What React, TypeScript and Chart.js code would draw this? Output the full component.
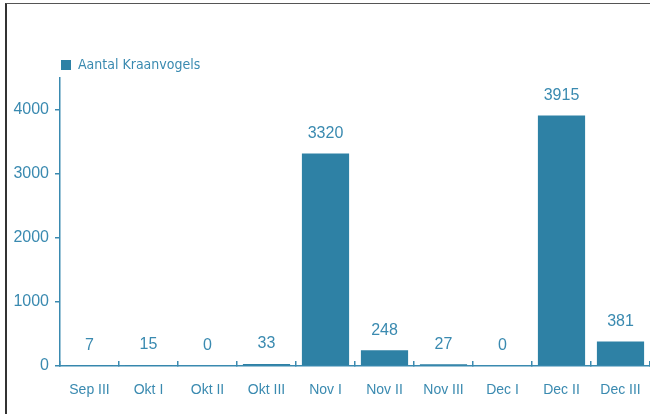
import React, { useEffect, useRef } from "react";
import { Chart, registerables } from "chart.js";

Chart.register(...registerables);

const categories = ["Sep III", "Okt I", "Okt II", "Okt III", "Nov I", "Nov II", "Nov III", "Dec I", "Dec II", "Dec III"];
const kraanvogels = [7, 15, 0, 33, 3320, 248, 27, 0, 3915, 381];
const seriesLabel = "Aantal Kraanvogels";
const yTickValues = [0, 1000, 2000, 3000, 4000];

const BAR = "#2e81a5";
const TEXT = "#3a8ab0";
const AXIS = "#3a8ab0";

const valueLabels = {
  id: "valueLabels",
  afterDatasetsDraw(chart: any) {
    const ctx = chart.ctx;
    const meta = chart.getDatasetMeta(0);
    const data = chart.data.datasets[0].data as number[];
    ctx.save();
    ctx.font = "16px 'Liberation Sans', Arial, sans-serif";
    ctx.fillStyle = TEXT;
    ctx.textAlign = "center";
    ctx.textBaseline = "middle";
    meta.data.forEach((el: any, i: number) => {
      ctx.fillText(String(data[i]), el.x, el.y - 20);
    });
    ctx.restore();
  },
};

const legendFit = {
  id: "legendFit",
  beforeLayout(chart: any) {
    const l = chart.legend;
    if (l && !l.__patched) {
      const orig = l.fit;
      l.fit = function () {
        orig.call(this);
        this.height -= 4;
      };
      l.__patched = true;
    }
  },
  afterLayout(chart: any) {
    const l = chart.legend;
    if (l) l.left = 51;
  },
};

export default function App() {
  const ref = useRef<HTMLCanvasElement | null>(null);
  useEffect(() => {
    if (!ref.current) return;
    const chart = new Chart(ref.current, {
      type: "bar",
      data: {
        labels: categories,
        datasets: [
          {
            label: seriesLabel,
            data: kraanvogels,
            backgroundColor: BAR,
            borderWidth: 0,
            categoryPercentage: 1,
            barPercentage: 0.8,
          },
        ],
      },
      options: {
        animation: false,
        responsive: false,
        layout: { padding: { left: 0, top: 48, right: 0, bottom: 0 } },
        plugins: {
          legend: {
            position: "top",
            align: "start",
            labels: {
              boxWidth: 10,
              boxHeight: 10,
              padding: 10,
              color: TEXT,
              font: { family: "'Liberation Sans Narrow', 'DejaVu Sans Condensed', 'Liberation Sans', sans-serif", size: 14 },
            },
          },
          tooltip: { enabled: false },
        },
        scales: {
          x: {
            grid: { drawOnChartArea: false, drawTicks: true, tickLength: -5, color: AXIS, lineWidth: 1.5 },
            border: { color: AXIS, width: 1.5 },
            ticks: { color: TEXT, padding: 21, font: { family: "'Liberation Sans', Arial, sans-serif", size: 14 } },
            afterFit(scale: any) {
              scale.height = 48;
              scale.paddingLeft = 0;
              scale.paddingRight = 0;
            },
          },
          y: {
            min: 0,
            max: 4500,
            grid: { drawOnChartArea: false, drawTicks: true, tickLength: 5, color: AXIS, lineWidth: 1.5 },
            border: { color: AXIS, width: 1.5 },
            ticks: {
              color: TEXT,
              padding: 6,
              font: { family: "'Liberation Sans', Arial, sans-serif", size: 16 },
              callback: (v: any) => String(v),
            },
            afterBuildTicks(scale: any) {
              scale.ticks = yTickValues.map((v) => ({ value: v }));
            },
            afterFit(scale: any) {
              scale.width = 60;
            },
          },
        },
      },
      plugins: [valueLabels, legendFit],
    });
    return () => chart.destroy();
  }, []);

  return (
    <div style={{ position: "fixed", left: 0, top: 0, width: 650, height: 414, background: "#fff", overflow: "hidden" }}>
      <canvas ref={ref} width={650} height={414} style={{ display: "block" }} />
      <div
        style={{
          position: "absolute",
          left: 5,
          top: 3,
          right: -10,
          bottom: -10,
          borderLeft: "2px solid #333",
          borderTop: "1px solid #555",
          pointerEvents: "none",
        }}
      />
    </div>
  );
}
